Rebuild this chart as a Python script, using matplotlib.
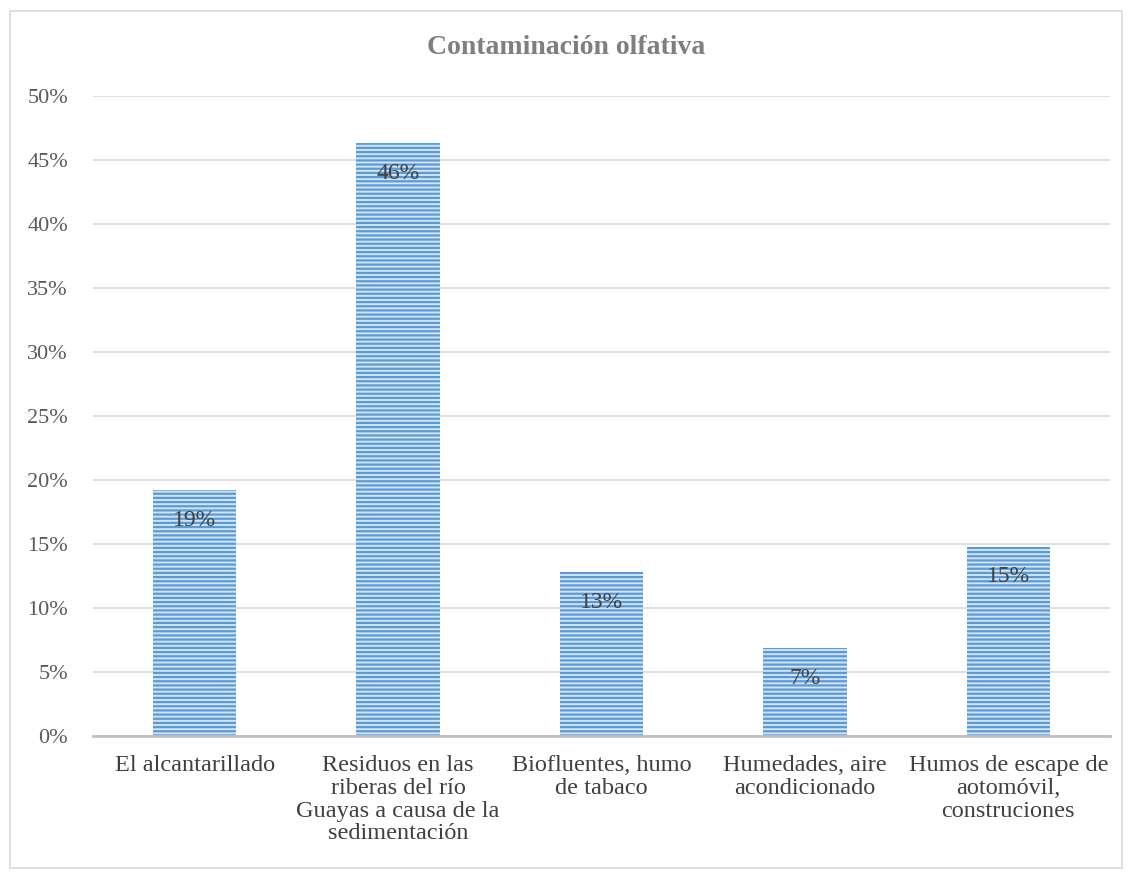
import matplotlib.pyplot as plt
from matplotlib.patches import Rectangle
from matplotlib.ticker import FuncFormatter

categories = ["El alcantarillado",
              "Residuos en las\nriberas del río\nGuayas a causa de la\nsedimentación",
              "Biofluentes, humo\nde tabaco",
              "Humedades, aire\nacondicionado",
              "Humos de escape de\naotomóvil,\nconstruciones"]
values = [0.192, 0.463, 0.128, 0.069, 0.148]
labels = ["19%", "46%", "13%", "7%", "15%"]

plt.rcParams['font.family'] = ['Liberation Serif', 'DejaVu Serif']
plt.rcParams['hatch.linewidth'] = 1.6
plt.rcParams['hatch.color'] = '#5B9BD5'

fig = plt.figure(figsize=(11.32, 8.77), dpi=100)
ax = fig.add_axes([0.0822, 0.1608, 0.8984, 0.7297])

x = range(len(values))
bars = ax.bar(x, values, width=0.41, color='#D2E3F5', hatch='----',
              edgecolor='#5B9BD5', linewidth=0, zorder=3)

for b, lab in zip(bars, labels):
    ax.text(b.get_x() + b.get_width() / 2, b.get_height() - 0.0155, lab,
            ha='center', va='top', fontsize=17, color='#404040', zorder=4)

ax.set_ylim(0, 0.5)
ax.set_xlim(-0.5, len(values) - 0.5)
ax.set_yticks([i * 0.05 for i in range(11)])
ax.yaxis.set_major_formatter(FuncFormatter(lambda v, p: f"{v*100:.0f}%"))
ax.grid(axis='y', color='#D9D9D9', linewidth=1.2, zorder=0)
ax.set_xticks(list(x))
ax.set_xticklabels(categories, fontsize=17.5, color='#404040', linespacing=1.1)
ax.tick_params(axis='y', labelsize=16, labelcolor='#595959', length=0, pad=18)
ax.tick_params(axis='x', length=0, pad=14)
for s in ['top', 'right', 'left']:
    ax.spines[s].set_visible(False)
ax.spines['bottom'].set_color('#BFBFBF')
ax.spines['bottom'].set_linewidth(2)
ax.spines['bottom'].set_zorder(5)

fig.text(0.5, 0.946, "Contaminación olfativa", ha='center', va='center',
         fontsize=20, fontweight='bold', color='#7F7F7F')

fig.patches.append(Rectangle((0.009, 0.01), 0.982, 0.978, transform=fig.transFigure,
                             fill=False, edgecolor='#D9D9D9', linewidth=1.2))

fig.savefig('out.png', dpi=100)
